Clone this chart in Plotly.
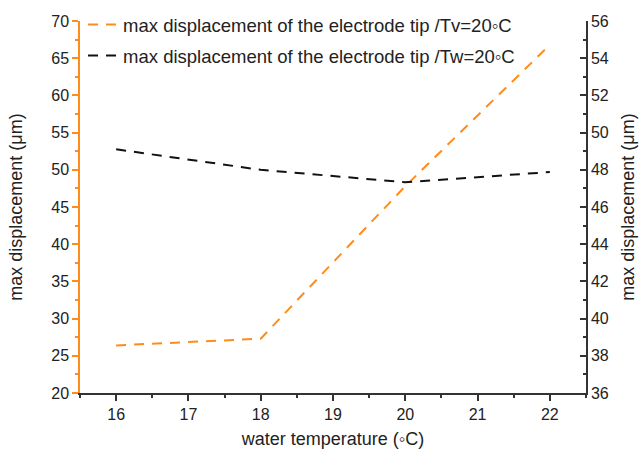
import plotly.graph_objects as go

temps = [16, 18, 20, 22]
disp_tv = [26.4, 27.3, 47.8, 66.8]      # left axis (orange)
disp_tw = [49.1, 48.0, 47.33, 47.88]    # right axis (black)

name_tv = "max displacement of the electrode tip /Tv=20◦C"
name_tw = "max displacement of the electrode tip /Tw=20◦C"
orange = "#FF8C1A"
font = "Liberation Sans, Arial, sans-serif"

H, B, T = 451, 58, 21
paper_h = H - B
top_dom = (paper_h - T) / paper_h

fig = go.Figure()
fig.add_trace(go.Scatter(x=temps, y=disp_tv, mode="lines", name=name_tv, legendgroup="a",
                         line=dict(color=orange, width=2, dash="10px,8px")))
fig.add_trace(go.Scatter(x=temps, y=disp_tw, mode="lines", name=name_tw, yaxis="y2", legendgroup="b",
                         line=dict(color="#111111", width=2, dash="10px,8px")))

fig.update_layout(
    width=641, height=H,
    margin=dict(l=80, r=55, t=0, b=B),
    paper_bgcolor="white", plot_bgcolor="white",
    font=dict(family=font, size=16, color="#222222"),
    showlegend=True,
    legend=dict(x=0.006, y=1 - 6 / paper_h, xanchor="left", yanchor="top", traceorder="grouped",
                bgcolor="rgba(0,0,0,0)", font=dict(size=18.5, color="#222222"),
                tracegroupgap=4, itemwidth=30),
    xaxis=dict(range=[15.5, 22.5], tick0=16, dtick=1, showgrid=False, zeroline=False,
               automargin=False,
               showline=True, linecolor="#333333", linewidth=1.5,
               ticks="outside", ticklen=6, tickcolor="#333333", tickwidth=1.5,
               minor=dict(dtick=0.5, tick0=15.5, ticks="outside", ticklen=3, tickcolor="#333333"),
               title=dict(text="water temperature (◦C)", font=dict(size=18), standoff=10),
               tickfont=dict(size=16)),
    yaxis=dict(range=[20, 70], tick0=20, dtick=5, domain=[0, top_dom],
               showgrid=False, zeroline=False, automargin=False,
               showline=True, linecolor=orange, linewidth=1.5,
               ticks="outside", ticklen=6, tickcolor=orange, tickwidth=1.5,
               minor=dict(dtick=2.5, ticks="outside", ticklen=3, tickcolor=orange),
               title=dict(text="max displacement (μm)", font=dict(size=18), standoff=24),
               tickfont=dict(size=16)),
    yaxis2=dict(range=[36, 56], tick0=36, dtick=2, overlaying="y", side="right",
                showgrid=False, zeroline=False, automargin=False,
                showline=True, linecolor="#333333", linewidth=1.5,
                ticks="inside", ticklen=6, tickcolor="#333333", tickwidth=1.5,
                minor=dict(dtick=1, ticks="inside", ticklen=3, tickcolor="#333333"),
                title=dict(text="max displacement (μm)", font=dict(size=18), standoff=14),
                tickfont=dict(size=16)),
)

fig.write_html("out.html")
